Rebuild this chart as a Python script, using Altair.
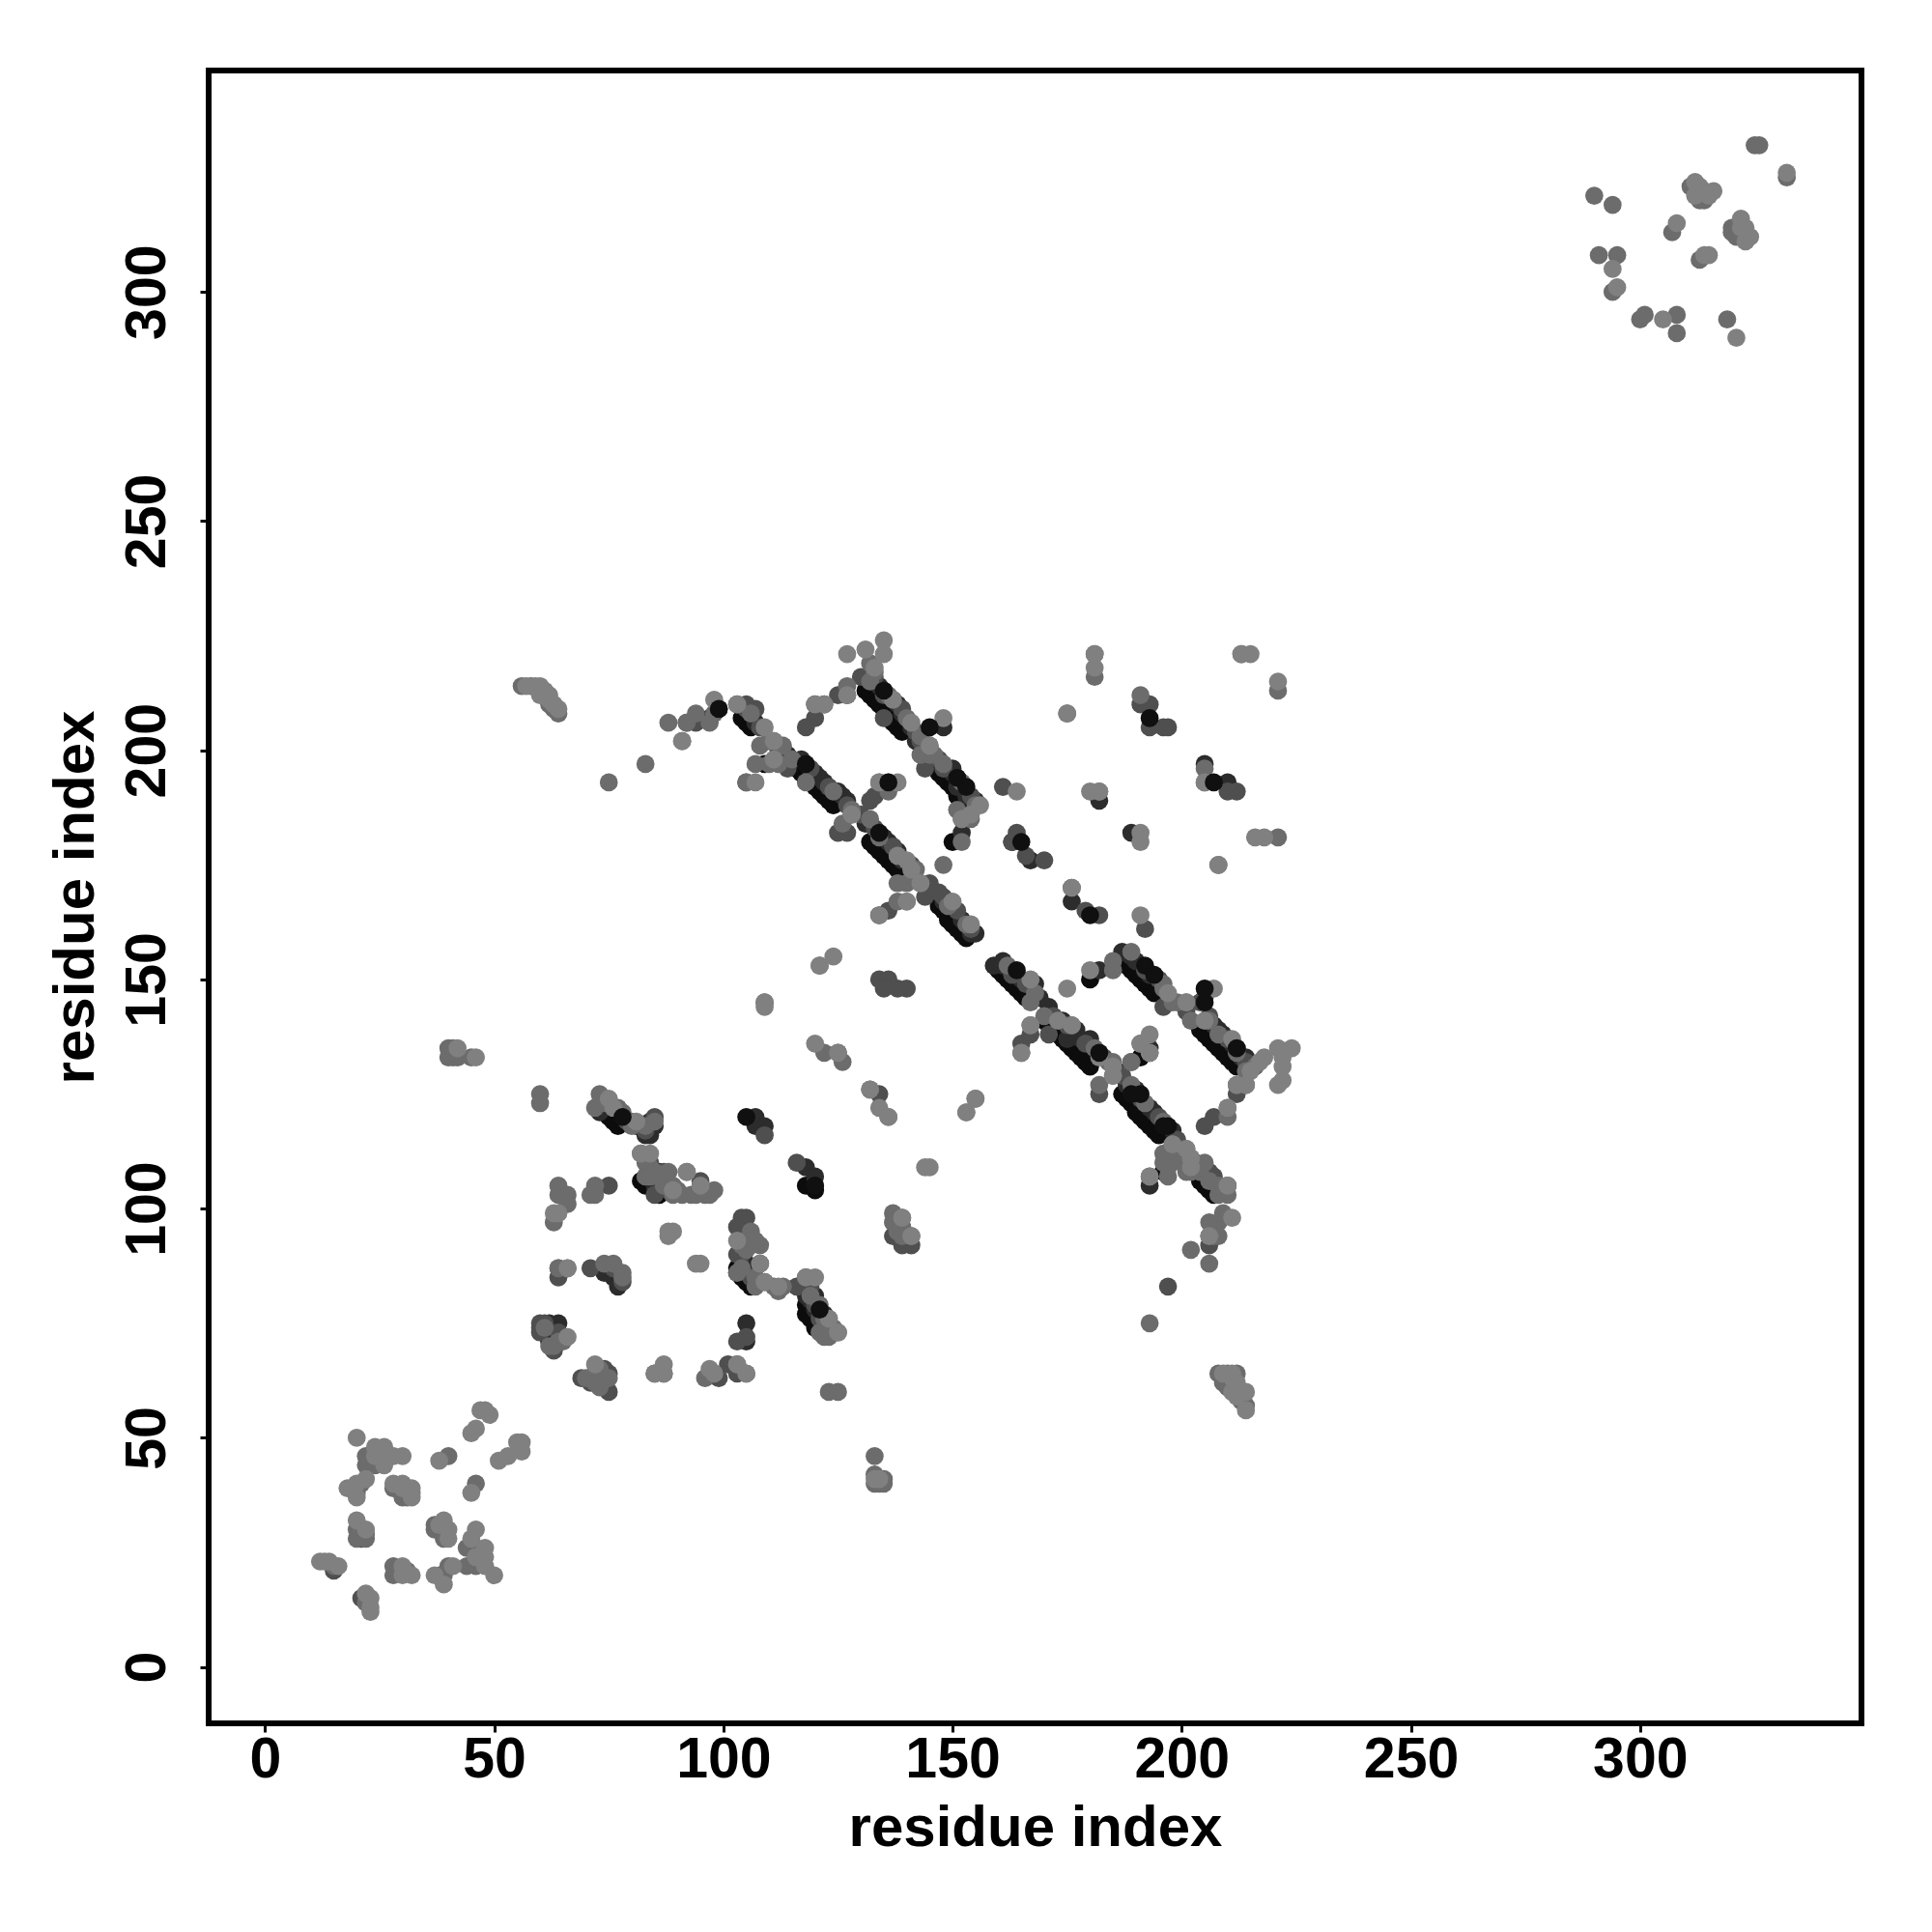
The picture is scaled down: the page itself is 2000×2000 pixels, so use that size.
import altair as alt
import pandas as pd

black_under = [
    (160,152),(161,151),(162,150),(163,149),(164,148),(165,147),(166,146),(170,141),(171,140),(172,139),
    (173,138),(174,137),(175,136),(176,135),(177,134),(178,133),(179,132),(180,131),(187,125),(188,124),
    (189,123),(190,121),(191,120),(192,119),(193,118),(194,117),(195,116),(204,106),(205,105),(206,104),
    (207,103),(104,207),(105,206),(106,205),(116,196),(117,195),(118,194),(119,193),(120,192),(121,191),
    (122,190),(123,189),(124,188),(132,180),(133,179),(134,178),(135,177),(136,176),(137,175),(138,174),
    (147,166),(148,165),(149,163),(150,162),(151,161),(152,160),(153,159),(131,213),(132,212),(133,211),
    (134,210),(135,209),(136,207),(137,206),(138,205),(139,204),(147,195),(148,194),(149,193),(150,192),
    (151,190),(152,189),(153,188),(188,153),(189,152),(190,151),(191,150),(192,149),(193,148),(194,147),
    (204,139),(205,138),(206,137),(207,136),(208,135),(209,134),(210,133),(211,132),(212,131),
    (75,120),(76,119),(77,118),(82,106),(83,105),(84,105),(85,104),(86,103),(103,87),(103,86),(104,85),
    (105,84),(106,83),(118,79),(118,77),(119,76),(120,74),(61,73),(62,71),(73,62),(74,61),(196,108),
    (109,197),(191,133),(180,150),(150,180),(163,180),(118,105),(120,104),
]
dark_points = [
    (159,153),(161,154),(168,149),(171,144),(177,139),(180,137),(188,127),(189,126),(193,122),(175,137),
    (205,109),(122,193),(120,195),(125,191),(127,189),(136,180),(137,179),(138,178),(141,174),(154,160),
    (137,211),(139,208),(142,202),(150,195),(151,192),(153,190),(155,189),(187,156),(189,155),(208,139),
    (209,138),(214,133),(212,135),(193,105),(182,189),(189,182),(176,167),(205,197),(73,121),(74,122),
    (76,122),(81,118),(83,116),(85,118),(86,108),(85,105),(64,75),(62,73),(63,71),(72,64),(74,62),(76,85),
    (77,83),(74,86),(105,88),(106,86),(118,81),(119,80),(120,78),(122,75),(107,120),(107,118),(109,118),
    (118,109),(120,107),(105,75),(105,71),(99,209),(97,207),(114,199),(152,182),(148,205),(210,193),(167,176),
    (182,152),(193,135),
    (161,153),(165,150),(169,146),(174,141),(178,137),(182,134),(186,130),(190,126),(194,121),(198,117),
    (207,106),(107,206),(117,198),(121,194),(126,190),(131,184),(135,181),(139,176),(148,167),(152,163),
    (155,160),(134,214),(138,210),(141,205),(150,196),(153,191),(190,154),(193,151),(207,140),(211,136),
    (213,133),(84,119),(84,116),(86,106),(105,86),(119,82),(120,81),(122,77),(63,74),(73,63),(62,75),
]
mid_points = [
    (15,21),(21,15),(21,28),(60,75),(75,105),(64,85),(78,84),(76,87),(75,64),(75,60),(85,120),(109,116),
    (116,110),(125,134),(134,125),(105,98),(104,98),(106,93),(103,90),(108,88),(103,96),(116,83),(118,85),
    (119,83),(141,92),(139,92),(137,94),(87,108),(84,110),(105,72),(60,74),(85,103),(98,64),(95,106),
    (105,193),(92,206),(94,206),(107,209),(114,196),(125,182),(127,182),(132,189),(133,190),(136,165),
    (145,171),(144,168),(148,168),(105,210),(120,207),(118,205),(125,212),(135,207),(143,202),(144,196),
    (148,196),(161,192),(163,180),(170,176),(176,170),(179,165),(182,164),(192,161),(193,210),(191,210),
    (205,146),(212,191),(210,191),(205,118),(207,120),(212,125),(165,136),(167,138),(171,138),(182,125),
    (189,132),(196,144),(201,143),(204,145),(206,141),(210,105),(207,107),(202,111),(206,92),(197,83),(206,94),
    (193,205),(196,205),(197,205),(134,150),(136,150),(140,148),(138,148),(135,148),(99,63),(101,66),
    (60,73),(63,69),(69,63),(71,62),(71,87),(64,87),(73,64),(85,64),(87,64),(103,71),(103,64),
    (164,182),(166,177),(134,164),(122,210),(120,210),(127,212),(130,216),(133,216),(135,213),
    (163,151),(166,149),(172,142),(175,140),(179,136),(183,133),(187,129),(191,124),(195,120),(199,115),
    (206,108),(105,209),(108,205),(112,200),(119,196),(123,192),(127,188),(130,186),(133,183),(137,179),
    (141,175),(147,169),(151,165),(154,161),(131,216),(135,212),(139,209),(142,204),(147,198),(151,194),
    (154,190),(192,152),(195,150),(206,142),(210,137),(214,132),(79,119),(82,118),(83,117),(85,107),
    (88,104),(104,90),(106,85),(108,84),(120,79),(121,76),(61,75),(64,73),(72,63),(74,65),
]
grey_points = [
    (22,14),(22,46),(22,44),(24,44),(26,46),(20,38),(20,39),(21,40),(28,39),(30,38),(30,37),(31,37),(20,30),
    (20,28),(22,29),(22,28),(28,22),(28,20),(29,21),(31,21),(40,46),(46,40),(37,31),(37,30),(39,30),(39,28),
    (38,20),(39,20),(40,22),(44,26),(44,22),(46,26),(46,22),(45,26),(15,22),
    (290,321),(294,319),(291,308),(295,308),(294,300),(300,294),(301,295),(308,291),(319,294),(307,313),
    (311,323),(312,322),(313,320),(314,320),(320,314),(320,313),(321,312),(322,312),(325,332),(326,332),
    (332,325),(313,307),(308,295),
    (64,87),(66,87),(74,88),(76,88),(78,86),(78,85),(60,125),(60,123),(72,122),(73,125),(73,123),(74,123),
    (80,119),(82,112),(83,110),(83,107),(64,103),(66,103),(66,101),(63,97),(72,105),(71,103),(72,103),
    (122,134),(126,132),(132,126),(136,120),(137,99),(139,98),(137,97),(139,96),(138,95),(139,94),(141,94),
    (103,86),(107,83),(109,84),(111,83),(112,82),(113,83),(123,76),(122,72),(125,73),(123,72),(123,74),
    (64,105),(88,108),(92,108),(93,103),(89,103),(96,103),(98,104),(97,103),(94,103),(97,64),(96,63),
    (108,92),(106,95),(103,66),(105,64),
    (167,140),(165,134),(167,145),(170,142),(176,140),(185,132),(185,129),(198,114),(201,113),(205,110),
    (197,107),(196,110),(201,110),(201,108),(202,108),(210,103),(208,103),(193,107),(182,127),
    (185,154),(185,152),(196,149),(198,145),(201,145),(202,141),(206,141),(216,131),(214,130),(212,127),
    (214,127),(210,122),(210,120),(191,136),(189,132),(193,134),(208,97),(209,99),(207,94),(208,94),(206,97),
    (91,202),(94,208),(97,206),(98,208),(103,210),(108,201),(111,202),(107,197),(110,197),(112,197),(113,201),
    (118,193),(126,184),(128,186),(132,185),(140,171),(138,171),(143,171),(140,167),(138,167),(148,175),
    (127,214),(132,219),(133,217),(145,201),(143,199),(145,199),(152,185),(154,185),(152,180),(151,187),
    (134,193),(136,191),(181,221),(191,212),(205,193),(205,196),(181,216),(213,221),(221,213),(221,181),
    (208,175),(212,64),(175,208),(56,214),(58,214),(60,213),(61,212),(62,210),(63,209),(64,208),
    (208,64),(210,64),(209,62),(210,61),(212,60),(213,59),(213,58),(214,57),
    (133,46),(133,42),(133,40),(134,40),(135,40),(135,41),(40,135),(41,135),(40,133),(41,133),(42,133),(45,133),
    (75,193),(83,197),(88,206),(92,206),(109,145),(121,153),(155,124),(153,121),(123,60),(125,60),(202,91),
    (206,88),(193,75),(105,193),
    (162,153),(168,147),(181,135),(184,132),(189,127),(192,123),(196,119),(203,110),(208,105),(106,208),
    (110,202),(115,198),(124,191),(128,187),(134,181),(138,177),(142,174),(149,166),(153,162),(132,215),
    (136,212),(140,207),(143,203),(146,199),(148,197),(152,193),(155,188),(189,156),(196,148),(199,145),
    (208,138),(212,134),(77,122),(78,121),(80,118),(83,118),(85,119),(83,111),(84,109),(87,105),(89,105),
    (90,104),(91,103),(84,107),(85,108),(104,92),(105,91),(105,93),(106,92),(107,93),(107,85),(104,87),
    (119,81),(121,79),(122,76),(121,73),(124,74),(122,73),(63,70),(64,71),(65,71),(62,70),(61,74),
    (71,63),(70,63),(72,62),(73,61),(73,65),(75,63),(200,110),(204,108),(206,106),(209,104),(196,112),
    (197,111),(197,109),(200,112),(199,112),
]
pale_points = [
    (12,23),(13,23),(14,23),(16,22),(20,50),(23,12),(23,13),(23,15),(22,16),(24,48),(26,48),(24,46),(28,46),
    (30,46),(26,44),(18,39),(20,37),(20,40),(22,41),(28,40),(30,40),(30,39),(32,39),(32,37),(32,38),(20,32),
    (22,30),(30,22),(30,20),(32,20),(38,45),(45,38),(45,51),(46,52),(47,56),(48,56),(49,55),(51,45),(53,46),
    (55,49),(56,47),(56,49),(38,31),(39,32),(40,30),(40,28),(37,20),(39,18),(41,22),(46,30),(45,28),(48,26),
    (48,24),(48,22),(46,24),(50,20),
    (294,305),(295,301),(305,294),(321,290),(308,315),(314,308),(315,308),(312,324),(313,323),(314,322),
    (316,322),(315,321),(312,321),(322,316),(322,314),(323,314),(323,311),(324,312),(332,326),
    (66,72),(72,66),(87,66),(85,64),(87,64),(89,95),(88,95),(88,94),(95,88),(94,88),(66,87),
    (64,99),(63,99),(76,122),(75,124),(81,119),(84,112),(82,112),(89,104),(92,108),(95,105),(144,109),(145,109),
    (120,136),(125,134),(134,122),(136,120),(132,126),(139,98),(141,94),(103,93),(108,88),(109,84),(112,83),(118,85),
    (120,85),(125,73),(123,76),(98,64),(97,65),(105,64),(103,66),
    (167,150),(175,148),(173,141),(176,140),(182,133),(185,131),(198,114),(201,113),(202,111),(202,109),
    (210,105),(193,107),(180,152),(155,124),(153,121),(167,140),(165,134),(185,129),
    (197,147),(201,145),(205,141),(207,148),(211,137),(218,133),(221,135),(224,135),(222,133),(222,131),(222,128),
    (221,127),(212,127),(214,127),(210,122),(211,98),(206,94),(193,138),(191,136),(193,134),(215,130),(217,132),
    (98,211),(103,210),(109,205),(111,202),(111,198),(107,193),(128,186),(138,177),(140,176),(141,174),(143,171),
    (135,224),(127,221),(131,222),(135,221),(133,218),(127,212),(120,210),(122,210),(137,211),(141,206),(148,207),
    (145,201),(156,188),(152,185),(154,186),(134,193),(138,193),(134,164),(140,167),(150,167),(91,202),
    (181,218),(181,221),(213,221),(215,221),(221,215),(216,181),(218,181),(208,175),(180,191),(182,191),(191,182),
    (191,180),(191,164),(176,170),(182,191),(205,193),(175,208),(164,191),(154,162),
    (57,214),(59,214),(60,214),(61,213),(62,212),(62,211),(63,210),(64,209),(60,212),
    (209,64),(211,63),(211,60),(212,62),(212,59),(214,60),(213,60),(214,56),(211,64),
    (133,41),(134,41),(42,135),(46,133),(121,153),(124,155),(109,144),(109,145),(136,193),
]
black_top = [
    (78,120),(99,209),(193,207),(165,180),(180,164),(197,118),(196,118),(182,134),(192,153),(194,151),(164,152),
    (118,197),(151,194),(153,192),(134,182),(135,213),(145,205),(105,120),(121,78),(207,193),(205,148),
    (205,145),(212,135),(120,105),(191,125),(189,125),(136,193),
]

level_names = ["black_under", "dark", "mid", "grey", "pale", "black_top"]
level_groups = [black_under, dark_points, mid_points, grey_points, pale_points, black_top]
level_colors = ["#0c0c0c", "#2c2c2c", "#4f4f4f", "#6c6c6c", "#808080", "#101010"]

rows = []
for name, group in zip(level_names, level_groups):
    for px, py in group:
        rows.append({"x": px, "y": py, "level": name})
df = pd.DataFrame(rows)

tick_values = [0, 50, 100, 150, 200, 250, 300]
axis_min, axis_max = -12.3, 348.3
FONT = "Liberation Sans"

x_axis = alt.Axis(values=tick_values, title="residue index", grid=False, domain=False, tickSize=9, tickWidth=3,
                  tickColor="black", labelFont=FONT, labelFontSize=59, labelFontWeight="bold", labelColor="black",
                  labelPadding=-1, titleFont=FONT, titleFontSize=60, titleFontWeight="bold", titleColor="black",
                  titlePadding=12, labelFlush=False, labelOverlap=False)
y_axis = alt.Axis(values=tick_values, title="residue index", grid=False, domain=False, tickSize=9, tickWidth=3,
                  tickColor="black", labelFont=FONT, labelFontSize=59, labelFontWeight="bold", labelColor="black",
                  labelAngle=270, labelAlign="center", labelBaseline="bottom", labelPadding=25, titleFont=FONT,
                  titleFontSize=60, titleFontWeight="bold", titleColor="black", titlePadding=14, labelFlush=False,
                  labelOverlap=False)

chart = (
    alt.Chart(df)
    .mark_circle(size=350, opacity=1)
    .encode(
        x=alt.X("x:Q", scale=alt.Scale(domain=[axis_min, axis_max], nice=False, zero=False), axis=x_axis),
        y=alt.Y("y:Q", scale=alt.Scale(domain=[axis_min, axis_max], nice=False, zero=False), axis=y_axis),
        color=alt.Color("level:N", scale=alt.Scale(domain=level_names, range=level_colors), legend=None),
    )
    .properties(width=1711, height=1711, padding={"left": 208, "top": 65, "right": 60, "bottom": 200},
                autosize=alt.AutoSizeParams(type="none"), background="white")
    .configure_view(stroke="black", strokeWidth=6)
)

chart.save("out.html", embed_options={"renderer": "svg", "actions": False})
